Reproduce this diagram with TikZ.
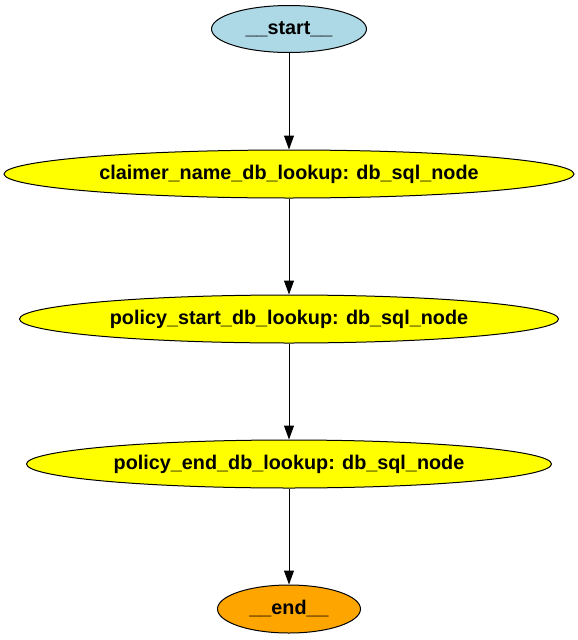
\documentclass[tikz,border=0pt]{standalone}
\usepackage{fontspec}
\setmainfont{Liberation Sans}
\usetikzlibrary{shapes.geometric,arrows.meta}
\definecolor{startblue}{RGB}{173,216,230}
\definecolor{stepyellow}{RGB}{255,255,0}
\definecolor{endorange}{RGB}{255,165,0}
\begin{document}
\begin{tikzpicture}[x=1pt, y=1pt,
        state/.style={ellipse, draw=black, line width=1pt, inner sep=0pt,
            minimum height=48pt, font=\fontsize{19.8}{22}\selectfont\bfseries},
        flow/.style={-{Triangle[length=14pt,width=10pt]}, line width=1pt}]
            \useasboundingbox (0,0) rectangle (578,-640);

            \node[state, fill=startblue, minimum width=155pt, minimum height=47pt] (start) at (289,-29) {\_\_start\_\_};
            \node[state, fill=stepyellow, minimum width=570pt] (claimer) at (289,-174) {claimer\_name\_db\_lookup: db\_sql\_node};
            \node[state, fill=stepyellow, minimum width=539pt] (pstart) at (289,-319) {policy\_start\_db\_lookup: db\_sql\_node};
            \node[state, fill=stepyellow, minimum width=525pt] (pend) at (289,-464) {policy\_end\_db\_lookup: db\_sql\_node};
            \node[state, fill=endorange, minimum width=143pt] (end) at (289,-609) {\_\_end\_\_};

            \draw[flow] (start) -- (claimer);
            \draw[flow] (claimer) -- (pstart);
            \draw[flow] (pstart) -- (pend);
            \draw[flow] (pend) -- (end);
\end{tikzpicture}
\end{document}
